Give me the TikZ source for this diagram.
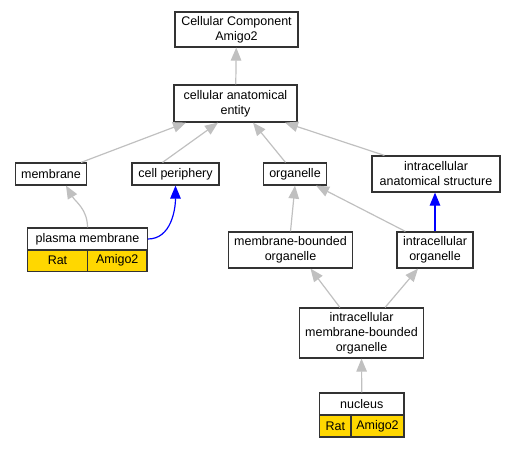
\documentclass[tikz,border=0pt]{standalone}
\usepackage{fontspec}
\setmainfont{Liberation Sans}
\usetikzlibrary{arrows.meta}
\usetikzlibrary{positioning}
\definecolor{edgegray}{HTML}{C0C0C0}
\definecolor{rowgold}{HTML}{FFD700}

\begin{document}
\begin{tikzpicture}[x=1pt,y=-1pt,
	term/.style={draw=black!80, line width=1.2pt, fill=white, inner sep=0pt, align=center,
	             font=\fontsize{12.5}{15}\selectfont},
	cell/.style={term, fill=rowgold},
	isa/.style={draw=edgegray, line width=1.2pt, -{Triangle[length=13pt,width=10.5pt]}},
	partof/.style={draw=blue, line width=1.2pt, -{Triangle[length=13pt,width=10.5pt]}}]
	\useasboundingbox (0,0) rectangle (516,448);

	\begin{scope}[every node/.style={term}]
		\node[minimum width=123, minimum height=35] (root) at (236.5,29.5) {Cellular Component\\Amigo2};
		\node[minimum width=123, minimum height=37] (cae) at (235.5,103.5) {cellular anatomical\\entity};
		\node[minimum width=71, minimum height=22] (mem) at (51,174) {membrane};
		\node[minimum width=87, minimum height=22] (cp) at (175.5,174) {cell periphery};
		\node[minimum width=63, minimum height=22] (org) at (295,174) {organelle};
		\node[minimum width=128, minimum height=36] (ias) at (436,174) {intracellular\\anatomical structure};
		\node[minimum width=124, minimum height=36] (mbo) at (290.5,250) {membrane-bounded\\organelle};
		\node[minimum width=76, minimum height=36] (io) at (435,250) {intracellular\\organelle};
		\node[minimum width=124, minimum height=50] (imbo) at (361.5,333) {intracellular\\membrane-bounded\\organelle};
		% plasma membrane with its table
		\node[minimum width=119.5, minimum height=22] (pm) at (87.5,239) {plasma membrane};
		\node[cell, minimum width=60, minimum height=21.5] (pmrat) at (57.5,260.75) {Rat};
		\node[cell, minimum width=59.5, minimum height=21.5] (pmamigo) at (117.25,260.75) {Amigo2};
		% nucleus with its table
		\node[minimum width=84.5, minimum height=22] (nuc) at (361.75,404) {nucleus};
		\node[cell, minimum width=31.5, minimum height=22] (nucrat) at (335.25,426) {Rat};
		\node[cell, minimum width=53, minimum height=22] (nucamigo) at (377.5,426) {Amigo2};
	\end{scope}

	\begin{scope}[every edge/.style={isa}]
		\path (cae) edge (root);
		\path ([xshift=-6]mem.north east) edge ([xshift=-49.5]cae.south);
		\path ([xshift=-13]cp.north) edge ([xshift=-17.5]cae.south);
		\path ([xshift=-9.5]org.north) edge ([xshift=17.5]cae.south);
		\path ([xshift=13]ias.north west) edge ([xshift=49.5]cae.south);
		\path (pm.north) edge[out=90, in=-60] ([xshift=15]mem.south);
		\path (mbo.north) edge (org.south);
		\path ([xshift=9]io.north west) edge ([xshift=-11]org.south east);
		\path ([xshift=41]imbo.north west) edge ([xshift=20]mbo.south);
		\path ([xshift=-39]imbo.north east) edge ([xshift=-17]io.south);
		\path (nuc.north) edge (imbo.south);
	\end{scope}

	\begin{scope}[every edge/.style={partof}]
		\path (pm.east) edge[out=0, in=-90] (cp.south);
		\path (io.north) edge (io.north |- ias.south);
	\end{scope}
\end{tikzpicture}
\end{document}
